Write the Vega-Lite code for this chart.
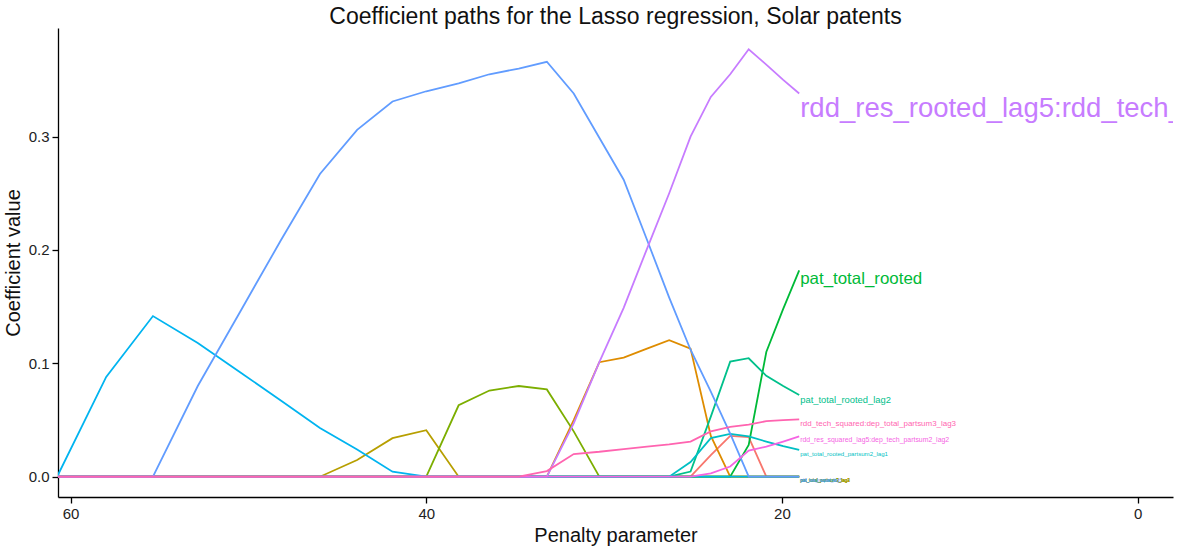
{
"$schema": "https://vega.github.io/schema/vega-lite/v6.json",
"width": 1115, "height": 469,
"autosize": {"type": "none"},
"padding": {"left": 58, "top": 28, "right": 4, "bottom": 52},
"background": "white",
"title": {"text": "Coefficient paths for the Lasso regression, Solar patents", "font": "Liberation Sans", "fontSize": 23, "fontWeight": "normal", "color": "#111111", "anchor": "middle", "offset": -1},
"config": {"view": {"stroke": null}, "axis": {"grid": false, "domainColor": "#000000", "domainWidth": 1.3, "tickColor": "#000000", "tickWidth": 1.3, "tickSize": 6, "labelFont": "Liberation Sans", "labelFontSize": 15, "labelColor": "#222222", "labelPadding": 3, "titleFont": "Liberation Sans", "titleFontSize": 20, "titleFontWeight": "normal", "titleColor": "#111111"}},
"datasets": {"paths": [
{"term":"pat_total_partsum3_lag1","lambda":60.76,"coef":0},{"term":"pat_total_partsum3_lag1","lambda":58.00,"coef":0},{"term":"pat_total_partsum3_lag1","lambda":55.37,"coef":0},{"term":"pat_total_partsum3_lag1","lambda":52.85,"coef":0},{"term":"pat_total_partsum3_lag1","lambda":50.45,"coef":0},{"term":"pat_total_partsum3_lag1","lambda":48.16,"coef":0},{"term":"pat_total_partsum3_lag1","lambda":45.98,"coef":0},{"term":"pat_total_partsum3_lag1","lambda":43.89,"coef":0},{"term":"pat_total_partsum3_lag1","lambda":41.90,"coef":0},{"term":"pat_total_partsum3_lag1","lambda":40.00,"coef":0},{"term":"pat_total_partsum3_lag1","lambda":38.18,"coef":0},{"term":"pat_total_partsum3_lag1","lambda":36.45,"coef":0},{"term":"pat_total_partsum3_lag1","lambda":34.80,"coef":0},{"term":"pat_total_partsum3_lag1","lambda":33.22,"coef":0},{"term":"pat_total_partsum3_lag1","lambda":31.71,"coef":0},{"term":"pat_total_partsum3_lag1","lambda":30.27,"coef":0},{"term":"pat_total_partsum3_lag1","lambda":28.90,"coef":0},{"term":"pat_total_partsum3_lag1","lambda":27.59,"coef":0},{"term":"pat_total_partsum3_lag1","lambda":26.34,"coef":0},{"term":"pat_total_partsum3_lag1","lambda":25.14,"coef":0},{"term":"pat_total_partsum3_lag1","lambda":24.00,"coef":0.019},{"term":"pat_total_partsum3_lag1","lambda":22.91,"coef":0.036},{"term":"pat_total_partsum3_lag1","lambda":21.87,"coef":0.035},{"term":"pat_total_partsum3_lag1","lambda":20.88,"coef":0},{"term":"pat_total_partsum3_lag1","lambda":19.93,"coef":0},{"term":"pat_total_partsum3_lag1","lambda":19.03,"coef":0},
{"term":"pat_total_partsum3_lag2","lambda":60.76,"coef":0},{"term":"pat_total_partsum3_lag2","lambda":58.00,"coef":0},{"term":"pat_total_partsum3_lag2","lambda":55.37,"coef":0},{"term":"pat_total_partsum3_lag2","lambda":52.85,"coef":0},{"term":"pat_total_partsum3_lag2","lambda":50.45,"coef":0},{"term":"pat_total_partsum3_lag2","lambda":48.16,"coef":0},{"term":"pat_total_partsum3_lag2","lambda":45.98,"coef":0},{"term":"pat_total_partsum3_lag2","lambda":43.89,"coef":0},{"term":"pat_total_partsum3_lag2","lambda":41.90,"coef":0},{"term":"pat_total_partsum3_lag2","lambda":40.00,"coef":0},{"term":"pat_total_partsum3_lag2","lambda":38.18,"coef":0},{"term":"pat_total_partsum3_lag2","lambda":36.45,"coef":0},{"term":"pat_total_partsum3_lag2","lambda":34.80,"coef":0},{"term":"pat_total_partsum3_lag2","lambda":33.22,"coef":0},{"term":"pat_total_partsum3_lag2","lambda":31.71,"coef":0.05},{"term":"pat_total_partsum3_lag2","lambda":30.27,"coef":0.101},{"term":"pat_total_partsum3_lag2","lambda":28.90,"coef":0.105},{"term":"pat_total_partsum3_lag2","lambda":27.59,"coef":0.113},{"term":"pat_total_partsum3_lag2","lambda":26.34,"coef":0.1205},{"term":"pat_total_partsum3_lag2","lambda":25.14,"coef":0.113},{"term":"pat_total_partsum3_lag2","lambda":24.00,"coef":0.036},{"term":"pat_total_partsum3_lag2","lambda":22.91,"coef":0},{"term":"pat_total_partsum3_lag2","lambda":21.87,"coef":0},{"term":"pat_total_partsum3_lag2","lambda":20.88,"coef":0},{"term":"pat_total_partsum3_lag2","lambda":19.93,"coef":0},{"term":"pat_total_partsum3_lag2","lambda":19.03,"coef":0},
{"term":"pat_total_partsum3_lag3","lambda":60.76,"coef":0},{"term":"pat_total_partsum3_lag3","lambda":58.00,"coef":0},{"term":"pat_total_partsum3_lag3","lambda":55.37,"coef":0},{"term":"pat_total_partsum3_lag3","lambda":52.85,"coef":0},{"term":"pat_total_partsum3_lag3","lambda":50.45,"coef":0},{"term":"pat_total_partsum3_lag3","lambda":48.16,"coef":0},{"term":"pat_total_partsum3_lag3","lambda":45.98,"coef":0},{"term":"pat_total_partsum3_lag3","lambda":43.89,"coef":0.0147},{"term":"pat_total_partsum3_lag3","lambda":41.90,"coef":0.034},{"term":"pat_total_partsum3_lag3","lambda":40.00,"coef":0.041},{"term":"pat_total_partsum3_lag3","lambda":38.18,"coef":0},{"term":"pat_total_partsum3_lag3","lambda":36.45,"coef":0},{"term":"pat_total_partsum3_lag3","lambda":34.80,"coef":0},{"term":"pat_total_partsum3_lag3","lambda":33.22,"coef":0},{"term":"pat_total_partsum3_lag3","lambda":31.71,"coef":0},{"term":"pat_total_partsum3_lag3","lambda":30.27,"coef":0},{"term":"pat_total_partsum3_lag3","lambda":28.90,"coef":0},{"term":"pat_total_partsum3_lag3","lambda":27.59,"coef":0},{"term":"pat_total_partsum3_lag3","lambda":26.34,"coef":0},{"term":"pat_total_partsum3_lag3","lambda":25.14,"coef":0},{"term":"pat_total_partsum3_lag3","lambda":24.00,"coef":0},{"term":"pat_total_partsum3_lag3","lambda":22.91,"coef":0},{"term":"pat_total_partsum3_lag3","lambda":21.87,"coef":0},{"term":"pat_total_partsum3_lag3","lambda":20.88,"coef":0},{"term":"pat_total_partsum3_lag3","lambda":19.93,"coef":0},{"term":"pat_total_partsum3_lag3","lambda":19.03,"coef":0},
{"term":"pat_total_partsum3_lag4","lambda":60.76,"coef":0},{"term":"pat_total_partsum3_lag4","lambda":58.00,"coef":0},{"term":"pat_total_partsum3_lag4","lambda":55.37,"coef":0},{"term":"pat_total_partsum3_lag4","lambda":52.85,"coef":0},{"term":"pat_total_partsum3_lag4","lambda":50.45,"coef":0},{"term":"pat_total_partsum3_lag4","lambda":48.16,"coef":0},{"term":"pat_total_partsum3_lag4","lambda":45.98,"coef":0},{"term":"pat_total_partsum3_lag4","lambda":43.89,"coef":0},{"term":"pat_total_partsum3_lag4","lambda":41.90,"coef":0},{"term":"pat_total_partsum3_lag4","lambda":40.00,"coef":0},{"term":"pat_total_partsum3_lag4","lambda":38.18,"coef":0.063},{"term":"pat_total_partsum3_lag4","lambda":36.45,"coef":0.076},{"term":"pat_total_partsum3_lag4","lambda":34.80,"coef":0.080},{"term":"pat_total_partsum3_lag4","lambda":33.22,"coef":0.077},{"term":"pat_total_partsum3_lag4","lambda":31.71,"coef":0.040},{"term":"pat_total_partsum3_lag4","lambda":30.27,"coef":0},{"term":"pat_total_partsum3_lag4","lambda":28.90,"coef":0},{"term":"pat_total_partsum3_lag4","lambda":27.59,"coef":0},{"term":"pat_total_partsum3_lag4","lambda":26.34,"coef":0},{"term":"pat_total_partsum3_lag4","lambda":25.14,"coef":0},{"term":"pat_total_partsum3_lag4","lambda":24.00,"coef":0},{"term":"pat_total_partsum3_lag4","lambda":22.91,"coef":0},{"term":"pat_total_partsum3_lag4","lambda":21.87,"coef":0},{"term":"pat_total_partsum3_lag4","lambda":20.88,"coef":0},{"term":"pat_total_partsum3_lag4","lambda":19.93,"coef":0},{"term":"pat_total_partsum3_lag4","lambda":19.03,"coef":0},
{"term":"pat_total_rooted","lambda":60.76,"coef":0},{"term":"pat_total_rooted","lambda":58.00,"coef":0},{"term":"pat_total_rooted","lambda":55.37,"coef":0},{"term":"pat_total_rooted","lambda":52.85,"coef":0},{"term":"pat_total_rooted","lambda":50.45,"coef":0},{"term":"pat_total_rooted","lambda":48.16,"coef":0},{"term":"pat_total_rooted","lambda":45.98,"coef":0},{"term":"pat_total_rooted","lambda":43.89,"coef":0},{"term":"pat_total_rooted","lambda":41.90,"coef":0},{"term":"pat_total_rooted","lambda":40.00,"coef":0},{"term":"pat_total_rooted","lambda":38.18,"coef":0},{"term":"pat_total_rooted","lambda":36.45,"coef":0},{"term":"pat_total_rooted","lambda":34.80,"coef":0},{"term":"pat_total_rooted","lambda":33.22,"coef":0},{"term":"pat_total_rooted","lambda":31.71,"coef":0},{"term":"pat_total_rooted","lambda":30.27,"coef":0},{"term":"pat_total_rooted","lambda":28.90,"coef":0},{"term":"pat_total_rooted","lambda":27.59,"coef":0},{"term":"pat_total_rooted","lambda":26.34,"coef":0},{"term":"pat_total_rooted","lambda":25.14,"coef":0},{"term":"pat_total_rooted","lambda":24.00,"coef":0},{"term":"pat_total_rooted","lambda":22.91,"coef":0},{"term":"pat_total_rooted","lambda":21.87,"coef":0.028},{"term":"pat_total_rooted","lambda":20.88,"coef":0.110},{"term":"pat_total_rooted","lambda":19.93,"coef":0.148},{"term":"pat_total_rooted","lambda":19.03,"coef":0.182},
{"term":"pat_total_rooted_lag2","lambda":60.76,"coef":0},{"term":"pat_total_rooted_lag2","lambda":58.00,"coef":0},{"term":"pat_total_rooted_lag2","lambda":55.37,"coef":0},{"term":"pat_total_rooted_lag2","lambda":52.85,"coef":0},{"term":"pat_total_rooted_lag2","lambda":50.45,"coef":0},{"term":"pat_total_rooted_lag2","lambda":48.16,"coef":0},{"term":"pat_total_rooted_lag2","lambda":45.98,"coef":0},{"term":"pat_total_rooted_lag2","lambda":43.89,"coef":0},{"term":"pat_total_rooted_lag2","lambda":41.90,"coef":0},{"term":"pat_total_rooted_lag2","lambda":40.00,"coef":0},{"term":"pat_total_rooted_lag2","lambda":38.18,"coef":0},{"term":"pat_total_rooted_lag2","lambda":36.45,"coef":0},{"term":"pat_total_rooted_lag2","lambda":34.80,"coef":0},{"term":"pat_total_rooted_lag2","lambda":33.22,"coef":0},{"term":"pat_total_rooted_lag2","lambda":31.71,"coef":0},{"term":"pat_total_rooted_lag2","lambda":30.27,"coef":0},{"term":"pat_total_rooted_lag2","lambda":28.90,"coef":0},{"term":"pat_total_rooted_lag2","lambda":27.59,"coef":0},{"term":"pat_total_rooted_lag2","lambda":26.34,"coef":0},{"term":"pat_total_rooted_lag2","lambda":25.14,"coef":0.0045},{"term":"pat_total_rooted_lag2","lambda":24.00,"coef":0.053},{"term":"pat_total_rooted_lag2","lambda":22.91,"coef":0.1015},{"term":"pat_total_rooted_lag2","lambda":21.87,"coef":0.1045},{"term":"pat_total_rooted_lag2","lambda":20.88,"coef":0.089},{"term":"pat_total_rooted_lag2","lambda":19.93,"coef":0.080},{"term":"pat_total_rooted_lag2","lambda":19.03,"coef":0.072},
{"term":"pat_total_rooted_partsum2_lag1","lambda":60.76,"coef":0},{"term":"pat_total_rooted_partsum2_lag1","lambda":58.00,"coef":0},{"term":"pat_total_rooted_partsum2_lag1","lambda":55.37,"coef":0},{"term":"pat_total_rooted_partsum2_lag1","lambda":52.85,"coef":0},{"term":"pat_total_rooted_partsum2_lag1","lambda":50.45,"coef":0},{"term":"pat_total_rooted_partsum2_lag1","lambda":48.16,"coef":0},{"term":"pat_total_rooted_partsum2_lag1","lambda":45.98,"coef":0},{"term":"pat_total_rooted_partsum2_lag1","lambda":43.89,"coef":0},{"term":"pat_total_rooted_partsum2_lag1","lambda":41.90,"coef":0},{"term":"pat_total_rooted_partsum2_lag1","lambda":40.00,"coef":0},{"term":"pat_total_rooted_partsum2_lag1","lambda":38.18,"coef":0},{"term":"pat_total_rooted_partsum2_lag1","lambda":36.45,"coef":0},{"term":"pat_total_rooted_partsum2_lag1","lambda":34.80,"coef":0},{"term":"pat_total_rooted_partsum2_lag1","lambda":33.22,"coef":0},{"term":"pat_total_rooted_partsum2_lag1","lambda":31.71,"coef":0},{"term":"pat_total_rooted_partsum2_lag1","lambda":30.27,"coef":0},{"term":"pat_total_rooted_partsum2_lag1","lambda":28.90,"coef":0},{"term":"pat_total_rooted_partsum2_lag1","lambda":27.59,"coef":0},{"term":"pat_total_rooted_partsum2_lag1","lambda":26.34,"coef":0},{"term":"pat_total_rooted_partsum2_lag1","lambda":25.14,"coef":0.013},{"term":"pat_total_rooted_partsum2_lag1","lambda":24.00,"coef":0.034},{"term":"pat_total_rooted_partsum2_lag1","lambda":22.91,"coef":0.0377},{"term":"pat_total_rooted_partsum2_lag1","lambda":21.87,"coef":0.0355},{"term":"pat_total_rooted_partsum2_lag1","lambda":20.88,"coef":0.031},{"term":"pat_total_rooted_partsum2_lag1","lambda":19.93,"coef":0.027},{"term":"pat_total_rooted_partsum2_lag1","lambda":19.03,"coef":0.0236},
{"term":"pat_total_squared","lambda":60.76,"coef":0},{"term":"pat_total_squared","lambda":58.00,"coef":0.088},{"term":"pat_total_squared","lambda":55.37,"coef":0.1417},{"term":"pat_total_squared","lambda":52.85,"coef":0.118},{"term":"pat_total_squared","lambda":50.45,"coef":0.092},{"term":"pat_total_squared","lambda":48.16,"coef":0.067},{"term":"pat_total_squared","lambda":45.98,"coef":0.043},{"term":"pat_total_squared","lambda":43.89,"coef":0.024},{"term":"pat_total_squared","lambda":41.90,"coef":0.0044},{"term":"pat_total_squared","lambda":40.00,"coef":0},{"term":"pat_total_squared","lambda":38.18,"coef":0},{"term":"pat_total_squared","lambda":36.45,"coef":0},{"term":"pat_total_squared","lambda":34.80,"coef":0},{"term":"pat_total_squared","lambda":33.22,"coef":0},{"term":"pat_total_squared","lambda":31.71,"coef":0},{"term":"pat_total_squared","lambda":30.27,"coef":0},{"term":"pat_total_squared","lambda":28.90,"coef":0},{"term":"pat_total_squared","lambda":27.59,"coef":0},{"term":"pat_total_squared","lambda":26.34,"coef":0},{"term":"pat_total_squared","lambda":25.14,"coef":0},{"term":"pat_total_squared","lambda":24.00,"coef":0},{"term":"pat_total_squared","lambda":22.91,"coef":0},{"term":"pat_total_squared","lambda":21.87,"coef":0},{"term":"pat_total_squared","lambda":20.88,"coef":0},{"term":"pat_total_squared","lambda":19.93,"coef":0},{"term":"pat_total_squared","lambda":19.03,"coef":0},
{"term":"rdd_res_rooted_lag5","lambda":60.76,"coef":0},{"term":"rdd_res_rooted_lag5","lambda":58.00,"coef":0},{"term":"rdd_res_rooted_lag5","lambda":55.37,"coef":0},{"term":"rdd_res_rooted_lag5","lambda":52.85,"coef":0.080},{"term":"rdd_res_rooted_lag5","lambda":50.45,"coef":0.146},{"term":"rdd_res_rooted_lag5","lambda":48.16,"coef":0.209},{"term":"rdd_res_rooted_lag5","lambda":45.98,"coef":0.267},{"term":"rdd_res_rooted_lag5","lambda":43.89,"coef":0.306},{"term":"rdd_res_rooted_lag5","lambda":41.90,"coef":0.331},{"term":"rdd_res_rooted_lag5","lambda":40.00,"coef":0.340},{"term":"rdd_res_rooted_lag5","lambda":38.18,"coef":0.347},{"term":"rdd_res_rooted_lag5","lambda":36.45,"coef":0.355},{"term":"rdd_res_rooted_lag5","lambda":34.80,"coef":0.360},{"term":"rdd_res_rooted_lag5","lambda":33.22,"coef":0.366},{"term":"rdd_res_rooted_lag5","lambda":31.71,"coef":0.338},{"term":"rdd_res_rooted_lag5","lambda":30.27,"coef":0.299},{"term":"rdd_res_rooted_lag5","lambda":28.90,"coef":0.262},{"term":"rdd_res_rooted_lag5","lambda":27.59,"coef":0.209},{"term":"rdd_res_rooted_lag5","lambda":26.34,"coef":0.158},{"term":"rdd_res_rooted_lag5","lambda":25.14,"coef":0.112},{"term":"rdd_res_rooted_lag5","lambda":24.00,"coef":0.075},{"term":"rdd_res_rooted_lag5","lambda":22.91,"coef":0.038},{"term":"rdd_res_rooted_lag5","lambda":21.87,"coef":0},{"term":"rdd_res_rooted_lag5","lambda":20.88,"coef":0},{"term":"rdd_res_rooted_lag5","lambda":19.93,"coef":0},{"term":"rdd_res_rooted_lag5","lambda":19.03,"coef":0},
{"term":"rdd_res_rooted_lag5:rdd_tech_rooted","lambda":60.76,"coef":0},{"term":"rdd_res_rooted_lag5:rdd_tech_rooted","lambda":58.00,"coef":0},{"term":"rdd_res_rooted_lag5:rdd_tech_rooted","lambda":55.37,"coef":0},{"term":"rdd_res_rooted_lag5:rdd_tech_rooted","lambda":52.85,"coef":0},{"term":"rdd_res_rooted_lag5:rdd_tech_rooted","lambda":50.45,"coef":0},{"term":"rdd_res_rooted_lag5:rdd_tech_rooted","lambda":48.16,"coef":0},{"term":"rdd_res_rooted_lag5:rdd_tech_rooted","lambda":45.98,"coef":0},{"term":"rdd_res_rooted_lag5:rdd_tech_rooted","lambda":43.89,"coef":0},{"term":"rdd_res_rooted_lag5:rdd_tech_rooted","lambda":41.90,"coef":0},{"term":"rdd_res_rooted_lag5:rdd_tech_rooted","lambda":40.00,"coef":0},{"term":"rdd_res_rooted_lag5:rdd_tech_rooted","lambda":38.18,"coef":0},{"term":"rdd_res_rooted_lag5:rdd_tech_rooted","lambda":36.45,"coef":0},{"term":"rdd_res_rooted_lag5:rdd_tech_rooted","lambda":34.80,"coef":0},{"term":"rdd_res_rooted_lag5:rdd_tech_rooted","lambda":33.22,"coef":0},{"term":"rdd_res_rooted_lag5:rdd_tech_rooted","lambda":31.71,"coef":0.047},{"term":"rdd_res_rooted_lag5:rdd_tech_rooted","lambda":30.27,"coef":0.101},{"term":"rdd_res_rooted_lag5:rdd_tech_rooted","lambda":28.90,"coef":0.149},{"term":"rdd_res_rooted_lag5:rdd_tech_rooted","lambda":27.59,"coef":0.201},{"term":"rdd_res_rooted_lag5:rdd_tech_rooted","lambda":26.34,"coef":0.250},{"term":"rdd_res_rooted_lag5:rdd_tech_rooted","lambda":25.14,"coef":0.300},{"term":"rdd_res_rooted_lag5:rdd_tech_rooted","lambda":24.00,"coef":0.335},{"term":"rdd_res_rooted_lag5:rdd_tech_rooted","lambda":22.91,"coef":0.355},{"term":"rdd_res_rooted_lag5:rdd_tech_rooted","lambda":21.87,"coef":0.377},{"term":"rdd_res_rooted_lag5:rdd_tech_rooted","lambda":20.88,"coef":0.3635},{"term":"rdd_res_rooted_lag5:rdd_tech_rooted","lambda":19.93,"coef":0.350},{"term":"rdd_res_rooted_lag5:rdd_tech_rooted","lambda":19.03,"coef":0.338},
{"term":"rdd_res_squared_lag5:dep_tech_partsum2_lag2","lambda":60.76,"coef":0},{"term":"rdd_res_squared_lag5:dep_tech_partsum2_lag2","lambda":58.00,"coef":0},{"term":"rdd_res_squared_lag5:dep_tech_partsum2_lag2","lambda":55.37,"coef":0},{"term":"rdd_res_squared_lag5:dep_tech_partsum2_lag2","lambda":52.85,"coef":0},{"term":"rdd_res_squared_lag5:dep_tech_partsum2_lag2","lambda":50.45,"coef":0},{"term":"rdd_res_squared_lag5:dep_tech_partsum2_lag2","lambda":48.16,"coef":0},{"term":"rdd_res_squared_lag5:dep_tech_partsum2_lag2","lambda":45.98,"coef":0},{"term":"rdd_res_squared_lag5:dep_tech_partsum2_lag2","lambda":43.89,"coef":0},{"term":"rdd_res_squared_lag5:dep_tech_partsum2_lag2","lambda":41.90,"coef":0},{"term":"rdd_res_squared_lag5:dep_tech_partsum2_lag2","lambda":40.00,"coef":0},{"term":"rdd_res_squared_lag5:dep_tech_partsum2_lag2","lambda":38.18,"coef":0},{"term":"rdd_res_squared_lag5:dep_tech_partsum2_lag2","lambda":36.45,"coef":0},{"term":"rdd_res_squared_lag5:dep_tech_partsum2_lag2","lambda":34.80,"coef":0},{"term":"rdd_res_squared_lag5:dep_tech_partsum2_lag2","lambda":33.22,"coef":0},{"term":"rdd_res_squared_lag5:dep_tech_partsum2_lag2","lambda":31.71,"coef":0},{"term":"rdd_res_squared_lag5:dep_tech_partsum2_lag2","lambda":30.27,"coef":0},{"term":"rdd_res_squared_lag5:dep_tech_partsum2_lag2","lambda":28.90,"coef":0},{"term":"rdd_res_squared_lag5:dep_tech_partsum2_lag2","lambda":27.59,"coef":0},{"term":"rdd_res_squared_lag5:dep_tech_partsum2_lag2","lambda":26.34,"coef":0},{"term":"rdd_res_squared_lag5:dep_tech_partsum2_lag2","lambda":25.14,"coef":0},{"term":"rdd_res_squared_lag5:dep_tech_partsum2_lag2","lambda":24.00,"coef":0.003},{"term":"rdd_res_squared_lag5:dep_tech_partsum2_lag2","lambda":22.91,"coef":0.009},{"term":"rdd_res_squared_lag5:dep_tech_partsum2_lag2","lambda":21.87,"coef":0.023},{"term":"rdd_res_squared_lag5:dep_tech_partsum2_lag2","lambda":20.88,"coef":0.0265},{"term":"rdd_res_squared_lag5:dep_tech_partsum2_lag2","lambda":19.93,"coef":0.031},{"term":"rdd_res_squared_lag5:dep_tech_partsum2_lag2","lambda":19.03,"coef":0.0355},
{"term":"rdd_tech_squared:dep_total_partsum3_lag3","lambda":60.76,"coef":0},{"term":"rdd_tech_squared:dep_total_partsum3_lag3","lambda":58.00,"coef":0},{"term":"rdd_tech_squared:dep_total_partsum3_lag3","lambda":55.37,"coef":0},{"term":"rdd_tech_squared:dep_total_partsum3_lag3","lambda":52.85,"coef":0},{"term":"rdd_tech_squared:dep_total_partsum3_lag3","lambda":50.45,"coef":0},{"term":"rdd_tech_squared:dep_total_partsum3_lag3","lambda":48.16,"coef":0},{"term":"rdd_tech_squared:dep_total_partsum3_lag3","lambda":45.98,"coef":0},{"term":"rdd_tech_squared:dep_total_partsum3_lag3","lambda":43.89,"coef":0},{"term":"rdd_tech_squared:dep_total_partsum3_lag3","lambda":41.90,"coef":0},{"term":"rdd_tech_squared:dep_total_partsum3_lag3","lambda":40.00,"coef":0},{"term":"rdd_tech_squared:dep_total_partsum3_lag3","lambda":38.18,"coef":0},{"term":"rdd_tech_squared:dep_total_partsum3_lag3","lambda":36.45,"coef":0},{"term":"rdd_tech_squared:dep_total_partsum3_lag3","lambda":34.80,"coef":0},{"term":"rdd_tech_squared:dep_total_partsum3_lag3","lambda":33.22,"coef":0.005},{"term":"rdd_tech_squared:dep_total_partsum3_lag3","lambda":31.71,"coef":0.020},{"term":"rdd_tech_squared:dep_total_partsum3_lag3","lambda":30.27,"coef":0.022},{"term":"rdd_tech_squared:dep_total_partsum3_lag3","lambda":28.90,"coef":0.0244},{"term":"rdd_tech_squared:dep_total_partsum3_lag3","lambda":27.59,"coef":0.0265},{"term":"rdd_tech_squared:dep_total_partsum3_lag3","lambda":26.34,"coef":0.0285},{"term":"rdd_tech_squared:dep_total_partsum3_lag3","lambda":25.14,"coef":0.031},{"term":"rdd_tech_squared:dep_total_partsum3_lag3","lambda":24.00,"coef":0.040},{"term":"rdd_tech_squared:dep_total_partsum3_lag3","lambda":22.91,"coef":0.044},{"term":"rdd_tech_squared:dep_total_partsum3_lag3","lambda":21.87,"coef":0.046},{"term":"rdd_tech_squared:dep_total_partsum3_lag3","lambda":20.88,"coef":0.049},{"term":"rdd_tech_squared:dep_total_partsum3_lag3","lambda":19.93,"coef":0.050},{"term":"rdd_tech_squared:dep_total_partsum3_lag3","lambda":19.03,"coef":0.0506}
]},
"data": {"name": "paths"},
"encoding": {
  "x": {"field": "lambda", "type": "quantitative", "scale": {"domain": [-1.99, 60.71], "reverse": true, "nice": false, "zero": false}, "axis": {"values": [60, 40, 20, 0], "title": "Penalty parameter", "titlePadding": 4}},
  "y": {"field": "coef", "type": "quantitative", "scale": {"domain": [-0.0179, 0.3958], "nice": false, "zero": false}, "axis": {"values": [0, 0.1, 0.2, 0.3], "format": ".1f", "title": "Coefficient value", "titlePadding": 5}},
  "color": {"field": "term", "type": "nominal", "legend": null, "scale": {
    "domain": ["pat_total_partsum3_lag1","pat_total_partsum3_lag2","pat_total_partsum3_lag3","pat_total_partsum3_lag4","pat_total_rooted","pat_total_rooted_lag2","pat_total_rooted_partsum2_lag1","pat_total_squared","rdd_res_rooted_lag5","rdd_res_rooted_lag5:rdd_tech_rooted","rdd_res_squared_lag5:dep_tech_partsum2_lag2","rdd_tech_squared:dep_total_partsum3_lag3"],
    "range": ["#F8766D","#DE8C00","#B79F00","#7CAE00","#00BA38","#00C08B","#00BFC4","#00B4F0","#619CFF","#C77CFF","#F564E3","#FF64B0"]}}
},
"layer": [
  {"mark": {"type": "line", "strokeWidth": 1.8, "clip": true}},
  {"transform": [{"filter": "datum.lambda < 19.5"}],
   "mark": {"type": "text", "align": "left", "baseline": "top", "dx": 1, "dy": 1, "font": "Liberation Sans", "clip": true},
   "encoding": {"text": {"field": "term"}, "size": {"field": "coef", "type": "quantitative", "legend": null, "scale": {"domain": [0, 0.338], "range": [4.5, 27.5], "zero": false}}}}
]
}
